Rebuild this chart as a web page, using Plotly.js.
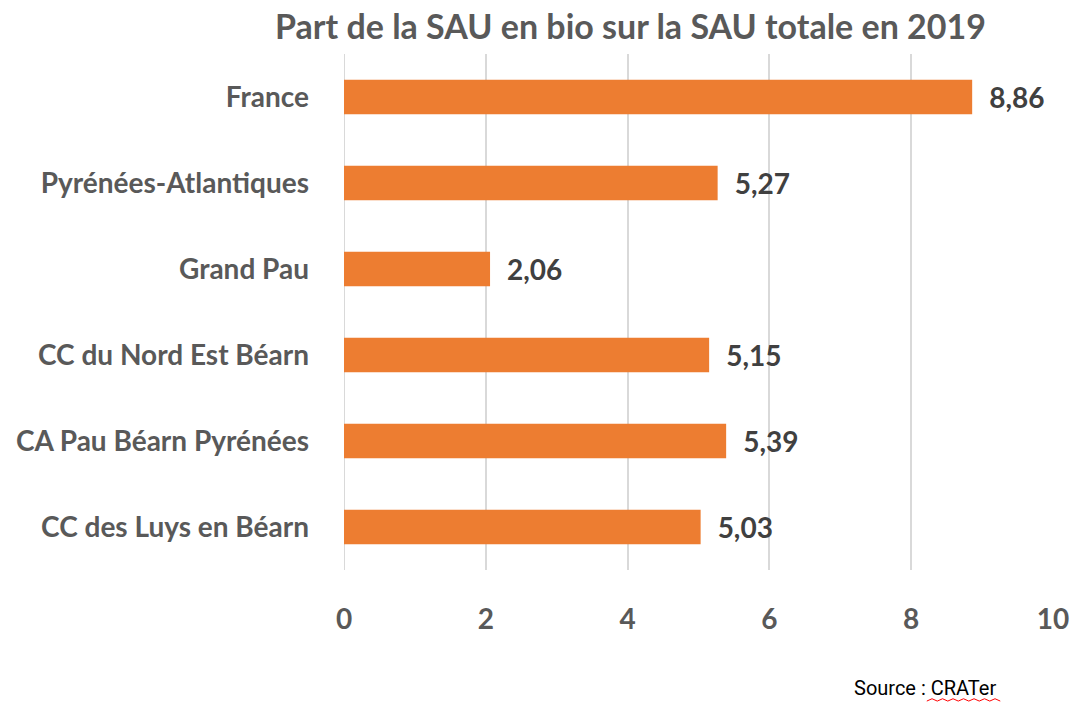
<!DOCTYPE html>
<html>
<head>
<meta charset="utf-8">
<script src="https://cdn.plot.ly/plotly-3.0.1.min.js"></script>
<style>html,body{margin:0;padding:0;background:#fff;}#chart{width:1076px;height:702px;}</style>
</head>
<body>
<div id="chart"></div>
<script>
const categories = ["France", "Pyrénées-Atlantiques", "Grand Pau", "CC du Nord Est Béarn", "CA Pau Béarn Pyrénées", "CC des Luys en Béarn"];
const values = [8.86, 5.27, 2.06, 5.15, 5.39, 5.03];
const tickValues = [0, 2, 4, 6, 8, 10];
const titleText = "Part de la SAU en bio sur la SAU totale en 2019";
const sourceText = "Source : CRATer";

const FONT = "Lato, 'Open Sans', sans-serif";

const trace = {
  type: "bar",
  orientation: "h",
  y: categories,
  x: values,
  marker: {color: "#ED7D31"},
  width: 0.4,
  text: values.map(v => "\u2002" + v.toFixed(2).replace(".", ",")),
  textposition: "outside",
  cliponaxis: false,
  textfont: {family: FONT, size: 28, color: "#404040", weight: 700},
  hoverinfo: "skip"
};

// squiggle points for the spell-check underline (decoration)
let sq = "M 0.822 -0.254";
for (let i = 1; i <= 14; i++) {
  sq += " L " + (0.822 + i * 0.0074).toFixed(4) + " " + (i % 2 ? -0.2495 : -0.254);
}

const layout = {
  width: 1076,
  height: 702,
  margin: {l: 344, r: 23, t: 54, b: 132},
  paper_bgcolor: "#fff",
  plot_bgcolor: "#fff",
  showlegend: false,
  separators: ", ",
  title: {
    text: titleText,
    font: {family: FONT, size: 34, color: "#595959", weight: 700},
    x: 0.586, xanchor: "center", y: 0.962, yanchor: "middle"
  },
  xaxis: {
    range: [0, 10],
    tickvals: tickValues,
    ticktext: tickValues.map(String),
    showgrid: true,
    gridcolor: "#D9D9D9",
    gridwidth: 2,
    zeroline: false,
    showline: false,
    ticks: "",
    ticklabelstandoff: 30,
    tickfont: {family: FONT, size: 28, color: "#595959", weight: 700},
    fixedrange: true
  },
  yaxis: {
    autorange: "reversed",
    type: "category",
    showgrid: false,
    zeroline: false,
    showline: false,
    ticks: "",
    ticklabelstandoff: 34,
    tickfont: {family: FONT, size: 28, color: "#595959", weight: 700},
    fixedrange: true
  },
  shapes: [
    {type: "line", xref: "x", yref: "paper", x0: 0, x1: 0, y0: 0, y1: 1, line: {color: "#D9D9D9", width: 2}, layer: "below"},
    {type: "path", xref: "paper", yref: "paper", path: sq, line: {color: "#FF0000", width: 1}}
  ],
  annotations: [
    {text: sourceText, xref: "paper", yref: "paper", x: 0.819, y: -0.229, xanchor: "center", yanchor: "middle",
     showarrow: false, font: {family: "Roboto, sans-serif", size: 20, color: "#000"}}
  ]
};

Plotly.newPlot("chart", [trace], layout, {displayModeBar: false, staticPlot: true});
</script>
</body>
</html>
